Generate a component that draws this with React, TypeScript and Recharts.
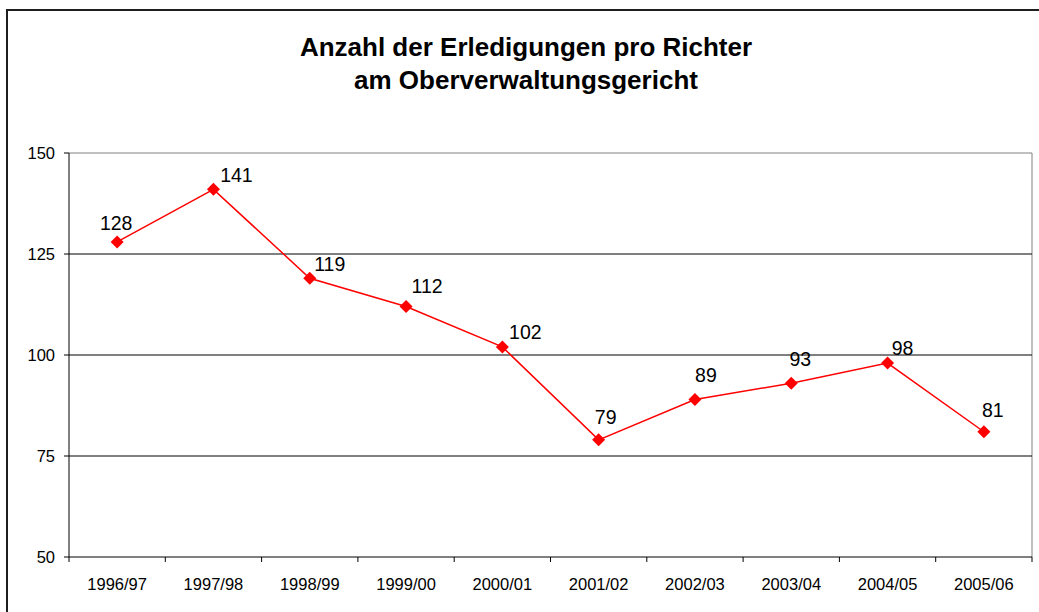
import { LineChart, Line, XAxis, YAxis, ReferenceLine } from "recharts";

const years = ["1996/97", "1997/98", "1998/99", "1999/00", "2000/01", "2001/02", "2002/03", "2003/04", "2004/05", "2005/06"];
const cases = [128, 141, 119, 112, 102, 79, 89, 93, 98, 81];
const yTicks = [50, 75, 100, 125, 150];
const gridValues = [75, 100, 125];

// hand-placed label nudges (relative to each marker), like the original sheet
const labelShiftX = [-1, 23, 20, 21, 23, 7, 11, 9, 15, 9];
const labelShiftY = [-12, -7, -7, -14, -8, -16, -17, -17, -8, -15];

const chartData = years.map((year, i) => ({ pos: i, year, value: cases[i] }));
// category centres carry the labels, the half steps between them carry the tick marks
const xTicks: number[] = [];
years.forEach((_, i) => xTicks.push(i - 0.5, i));
xTicks.push(years.length - 0.5);

const FONT = '"Liberation Sans", Arial, sans-serif';
const tickStyle = { fontSize: 16.5, fill: "#000", fontFamily: FONT };

function XTick(props: any) {
  const { x, y, payload } = props;
  const v = payload.value;
  if (Number.isInteger(v)) {
    return (
      <text x={x} y={y + 33} textAnchor="middle" fontSize={16.5} fontFamily={FONT} fill="#000">
        {years[v]}
      </text>
    );
  }
  return <line x1={x} y1={y} x2={x} y2={y + 5} stroke="#000" />;
}

function Diamond(props: any) {
  const { cx, cy, index } = props;
  if (cx == null || cy == null) return null;
  const r = 6.5;
  return (
    <polygon
      key={`d-${index}`}
      points={`${cx},${cy - r} ${cx + r},${cy} ${cx},${cy + r} ${cx - r},${cy}`}
      fill="#ff0000"
    />
  );
}

function ValueLabel(props: any) {
  const { x, y, value, index } = props;
  if (x == null || y == null) return null;
  return (
    <text
      key={`l-${index}`}
      x={x + labelShiftX[index]}
      y={y + labelShiftY[index]}
      textAnchor="middle"
      fontSize={19.5}
      fontFamily={FONT}
      fill="#000"
    >
      {value}
    </text>
  );
}

export default function App() {
  return (
    <div style={{ position: "fixed", left: 0, top: 0, width: 1039, height: 612, overflow: "hidden", background: "#fff" }}>
      <div
        style={{
          position: "absolute",
          left: 6,
          top: 9,
          width: 1100,
          height: 700,
          borderLeft: "2px solid #1e1e1e",
          borderTop: "2px solid #1e1e1e",
        }}
      />
      <div
        style={{
          position: "absolute",
          left: 0,
          top: 31,
          width: 1052,
          textAlign: "center",
          fontFamily: FONT,
          fontWeight: "bold",
          fontSize: 26,
          lineHeight: "33px",
          color: "#000",
        }}
      >
        Anzahl der Erledigungen pro Richter
        <br />
        am Oberverwaltungsgericht
      </div>
      <div style={{ position: "absolute", left: 0, top: 0 }}>
        <LineChart width={1039} height={612} data={chartData} margin={{ top: 153, right: 7, bottom: 24, left: 0 }}>
          <ReferenceLine y={150} stroke="#808080" strokeWidth={1} />
          <ReferenceLine x={years.length - 0.5} stroke="#808080" strokeWidth={1} />
          {gridValues.map((v) => (
            <ReferenceLine key={v} y={v} stroke="#000" strokeWidth={1} />
          ))}
          <XAxis
            dataKey="pos"
            type="number"
            domain={[-0.5, years.length - 0.5]}
            ticks={xTicks}
            interval={0}
            allowDecimals
            height={31}
            tickLine={false}
            tickSize={0}
            tickMargin={0}
            axisLine={{ stroke: "#000" }}
            tick={XTick}
          />
          <YAxis
            domain={[50, 150]}
            ticks={yTicks}
            width={69}
            tickSize={5}
            tickMargin={9}
            axisLine={{ stroke: "#000" }}
            tickLine={{ stroke: "#000" }}
            tick={tickStyle}
            fontSize={16.5}
          />
          <Line
            dataKey="value"
            stroke="#ff0000"
            strokeWidth={1.5}
            dot={Diamond}
            activeDot={false}
            label={ValueLabel}
            isAnimationActive={false}
          />
        </LineChart>
      </div>
    </div>
  );
}
